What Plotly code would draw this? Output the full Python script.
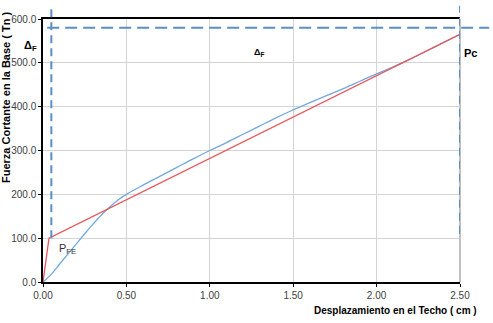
import plotly.graph_objects as go

# Data
bil_x = [0.0, 0.036, 2.5]
bil_y = [0.0, 100.0, 565.0]

cap_x = [0.0, 0.02, 0.05, 0.10, 0.15, 0.20, 0.25, 0.30, 0.35, 0.40, 0.45, 0.50,
         0.60, 0.70, 0.80, 0.90, 1.00, 1.10, 1.20, 1.30, 1.40, 1.50, 1.60, 1.70,
         1.80, 1.90, 2.00, 2.10, 2.20, 2.30, 2.40, 2.50]
cap_y = [0.0, 7.0, 18.0, 41.0, 64.0, 87.0, 110.0, 132.0, 153.0, 171.0, 187.0, 200.0,
         221.0, 241.0, 261.0, 281.0, 300.0, 318.0, 337.0, 356.0, 375.0, 393.0, 409.0, 425.0,
         441.0, 458.0, 475.0, 491.0, 508.0, 527.0, 546.0, 565.0]

delta_f_x = 0.05
pc_x = 2.5
pc_y = 580.0

x_ticks = [0.0, 0.5, 1.0, 1.5, 2.0, 2.5]
y_ticks = [0, 100, 200, 300, 400, 500, 600]

FONT = "Liberation Sans, Arial, sans-serif"
DASH = "#5b8fc4"

fig = go.Figure()
fig.add_trace(go.Scatter(x=cap_x, y=cap_y, mode="lines", line_shape="spline",
                         line=dict(color="#72a9da", width=1.3), showlegend=False))
fig.add_trace(go.Scatter(x=bil_x, y=bil_y, mode="lines",
                         line=dict(color="#e9545a", width=1.3), showlegend=False))

# dashed reference lines
fig.add_shape(type="line", xref="x", yref="paper", x0=delta_f_x, x1=delta_f_x,
              y0=100 / 600, y1=1.04, line=dict(color=DASH, width=2, dash="8px,5px"))
fig.add_shape(type="line", xref="x", yref="paper", x0=pc_x, x1=pc_x,
              y0=110 / 600, y1=1.05, line=dict(color=DASH, width=2, dash="8px,5px"))
fig.add_shape(type="line", xref="paper", yref="y", x0=0.01, x1=1.07,
              y0=pc_y, y1=pc_y, line=dict(color=DASH, width=2, dash="12px,6px"))

# right border
fig.add_shape(type="line", xref="paper", yref="paper", x0=1, x1=1, y0=0, y1=1,
              line=dict(color="#808080", width=1), layer="below")

fig.add_annotation(x=-0.05, y=0.93, xref="paper", yref="paper", text="<b>Δ<sub>F</sub></b>",
                   showarrow=False, font=dict(family=FONT, size=11, color="#000"))
fig.add_annotation(x=0.518, y=0.90, xref="paper", yref="paper", text="<b>Δ<sub>F</sub></b>",
                   showarrow=False, font=dict(family=FONT, size=9, color="#000"))
fig.add_annotation(x=1.045, y=0.90, xref="paper", yref="paper", text="<b>Pc</b>",
                   showarrow=False, font=dict(family=FONT, size=11, color="#000"))
fig.add_annotation(x=0.145, y=75, xref="x", yref="y", text="P<sub>FE</sub>",
                   showarrow=False, font=dict(family=FONT, size=11, color="#333"))

fig.add_annotation(x=-0.089, y=0.703, xref="paper", yref="paper", xanchor="center", yanchor="middle",
                   text="<b>Fuerza Cortante en la Base ( Tn )</b>", textangle=-90,
                   showarrow=False, font=dict(family=FONT, size=11, color="#000"))
fig.add_annotation(x=1.045, y=-0.11, xref="paper", yref="paper", xanchor="right", yanchor="middle",
                   text="<b>Desplazamiento en el Techo ( cm )</b>",
                   showarrow=False, font=dict(family=FONT, size=10, color="#000"))

fig.update_layout(
    width=493, height=323,
    margin=dict(l=43, r=33, t=19, b=41),
    paper_bgcolor="white", plot_bgcolor="white",
    font=dict(family=FONT, size=10, color="#404040"),
    xaxis=dict(range=[0, 2.5], tickvals=x_ticks, ticktext=[f"{v:.2f}" for v in x_ticks],
               showgrid=True, gridcolor="#d4d4d4", gridwidth=1,
               showline=True, linecolor="#000", linewidth=1.5, mirror=True,
               ticks="outside", ticklen=3, tickcolor="#000", zeroline=False),
    yaxis=dict(range=[0, 600], tickvals=y_ticks, ticktext=[f"{v:.1f}" for v in y_ticks],
               showgrid=True, gridcolor="#d4d4d4", gridwidth=1,
               showline=True, linecolor="#000", linewidth=1.5,
               ticks="outside", ticklen=3, tickcolor="#000", zeroline=False),
)

fig.write_html("out.html")
